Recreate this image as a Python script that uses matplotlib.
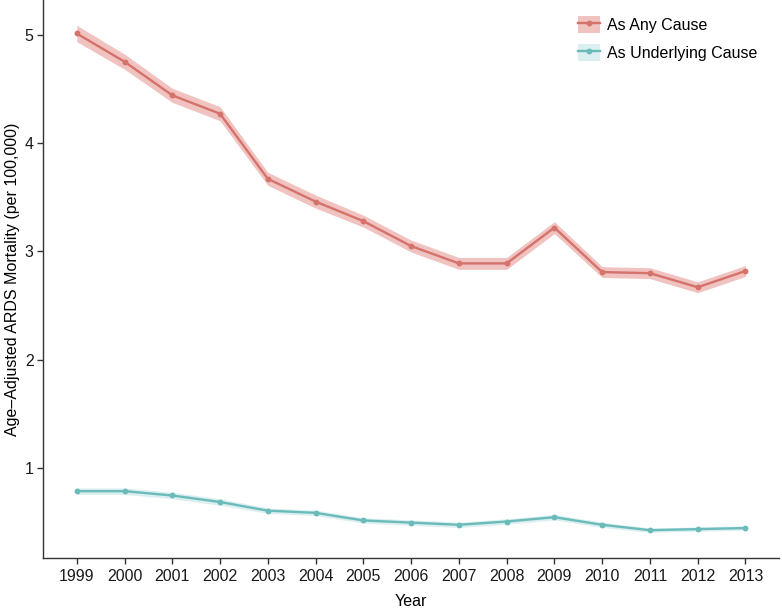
import numpy as np
import matplotlib
matplotlib.use("Agg")
import matplotlib.pyplot as plt
from matplotlib.lines import Line2D
from matplotlib.patches import Patch

plt.rcParams['font.family'] = ['Liberation Sans', 'DejaVu Sans']

years = [1999, 2000, 2001, 2002, 2003, 2004, 2005, 2006, 2007, 2008,
         2009, 2010, 2011, 2012, 2013]

any_cause = [5.01, 4.75, 4.44, 4.27, 3.67, 3.46, 3.28, 3.05, 2.89, 2.89,
             3.22, 2.81, 2.80, 2.67, 2.82]
any_half = [0.075, 0.07, 0.065, 0.065, 0.06, 0.06, 0.055, 0.055, 0.055, 0.055,
            0.055, 0.05, 0.05, 0.05, 0.05]

underlying = [0.79, 0.79, 0.75, 0.69, 0.61, 0.59, 0.52, 0.50, 0.48, 0.51,
              0.55, 0.48, 0.43, 0.44, 0.45]
under_half = [0.03, 0.03, 0.03, 0.03, 0.025, 0.025, 0.025, 0.025, 0.025, 0.025,
              0.025, 0.025, 0.02, 0.02, 0.02]

red_line = '#d4726b'
red_fill = '#f0c3c0'
teal_line = '#6bbbbb'
teal_fill = '#dbeff0'

fig = plt.figure(figsize=(7.82, 6.10), dpi=100)
ax = fig.add_axes([0.0554, 0.0857, 0.9406, 0.9143])

x = np.array(years)
a = np.array(any_cause)
ah = np.array(any_half)
u = np.array(underlying)
uh = np.array(under_half)

ax.fill_between(x, a - ah, a + ah, color=red_fill, lw=0)
ax.fill_between(x, u - uh, u + uh, color=teal_fill, lw=0)
ax.plot(x, a, color=red_line, lw=1.7, marker='o', ms=3.2)
ax.plot(x, u, color=teal_line, lw=1.7, marker='o', ms=3.2)

lo = min(u - uh)
hi = max(a + ah)
pad = (hi - lo) * 0.05
ax.set_ylim(lo - pad, hi + pad)
ax.set_xlim(1999 - 0.7, 2013 + 0.7)

ax.set_xticks(years)
ax.set_xticklabels([str(y) for y in years])
ax.set_yticks([1, 2, 3, 4, 5])

for s in ['top', 'right']:
    ax.spines[s].set_visible(False)
for s in ['left', 'bottom']:
    ax.spines[s].set_color('#333333')
    ax.spines[s].set_linewidth(1.0)
ax.tick_params(axis='both', length=4, width=1, color='#333333',
               labelsize=11.5, labelcolor='#1a1a1a', pad=4)
ax.tick_params(axis='y', pad=3)

ax.set_xlabel('Year', fontsize=11.5, labelpad=7)
ax.set_ylabel('Age\u2013Adjusted ARDS Mortality (per 100,000)', fontsize=11.5, labelpad=3)

handles = [
    (Patch(facecolor=red_fill, edgecolor='none'),
     Line2D([], [], color=red_line, lw=1.7, marker='o', ms=3.2)),
    (Patch(facecolor=teal_fill, edgecolor='none'),
     Line2D([], [], color=teal_line, lw=1.7, marker='o', ms=3.2)),
]
ax.legend(handles, ['As Any Cause', 'As Underlying Cause'],
          loc='upper left', bbox_to_anchor=(0.727, 0.971), frameon=False,
          borderpad=0, borderaxespad=0,
          fontsize=11.5, handlelength=1.4, handleheight=1.25,
          labelspacing=0.7, handletextpad=0.4)

fig.savefig('out.png', dpi=100)
